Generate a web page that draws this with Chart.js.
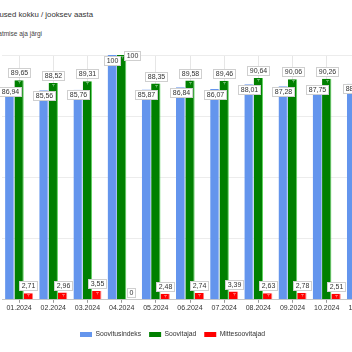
<!DOCTYPE html>
<html><head><meta charset="utf-8">
<script src="https://cdn.jsdelivr.net/npm/chart.js@4.4.0/dist/chart.umd.min.js"></script>
<style>
html,body{margin:0;padding:0;background:#fff;overflow:hidden;width:352px;height:352px;position:relative;font-family:"Liberation Sans",Arial,sans-serif}
#wrap{position:absolute;left:-74px;top:0;width:493px;height:352px}
.t1{position:absolute;right:259px;top:9px;font-size:7.8px;color:#333;white-space:nowrap;line-height:12px}
.t2{position:absolute;right:310px;top:29px;font-size:6.5px;color:#444;white-space:nowrap;line-height:10px}
</style></head>
<body>
<div class="t1">Soovitusindeksi tulemused kokku / jooksev aasta</div>
<div class="t2">Küsitluse saatmise aja järgi</div>
<div id="wrap"><canvas id="c"></canvas></div>
<script>
const categories = ['01.2024','02.2024','03.2024','04.2024','05.2024','06.2024','07.2024','08.2024','09.2024','10.2024','11.2024'];
const soovitusindeks = [86.94,85.56,85.76,100,85.87,86.84,86.07,88.01,87.28,87.75,88.3];
const soovitajad = [89.65,88.52,89.31,100,88.35,89.58,89.46,90.64,90.06,90.26,90.8];
const mittesoovitajad = [2.71,2.96,3.55,0,2.48,2.74,3.39,2.63,2.78,2.51,2.5];
const seriesNames = ['Soovitusindeks','Soovitajad','Mittesoovitajad'];
const colors = ['#6495ED','#008000','#FF0000'];
const edge = ['#9dbbf3','#5fd35f','#ff7a7a'];

function fmt(v){ return String(v).replace('.', ','); }

const labelPlugin = {
  id: 'valueLabels',
  afterDatasetsDraw(chart){
    const ctx = chart.ctx, area = chart.chartArea;
    ctx.save();
    chart.data.datasets.forEach((ds, di) => {
      const meta = chart.getDatasetMeta(di);
      meta.data.forEach((bar, i) => {
        if (!ds.data[i]) return;
        const x = Math.round(bar.x) + 0.5, y = Math.round(bar.y) + 0.5;
        ctx.strokeStyle = 'rgba(255,255,255,0.35)';
        ctx.lineWidth = 1;
        ctx.beginPath();
        ctx.moveTo(x - 1.5, y + 1); ctx.lineTo(x + 1.5, y + 1);
        ctx.moveTo(x, y + 1); ctx.lineTo(x, y + 3);
        ctx.stroke();
      });
    });
    ctx.font = '7px "Liberation Sans", Arial, sans-serif';
    ctx.textAlign = 'center';
    ctx.textBaseline = 'middle';
    chart.data.datasets.forEach((ds, di) => {
      const meta = chart.getDatasetMeta(di);
      meta.data.forEach((bar, i) => {
        const v = ds.data[i];
        if (v == null) return;
        const txt = fmt(v);
        const w = Math.round(ctx.measureText(txt).width + 4), h = 9;
        let cx = bar.x, cy;
        if (di === 0) {
          cy = bar.y + 5;
        } else {
          cy = bar.y - 3 - h / 2;
          if (cy - h / 2 < area.top) { cx = bar.x + 2 + w / 2; cy = bar.y; }
        }
        const x0 = Math.round(cx - w / 2) + 0.5, y0 = Math.round(cy - h / 2) + 0.5;
        ctx.fillStyle = '#ffffff';
        ctx.fillRect(x0, y0, w, h);
        ctx.strokeStyle = '#cfcfcf';
        ctx.lineWidth = 1;
        ctx.strokeRect(x0, y0, w, h);
        ctx.fillStyle = '#333333';
        ctx.fillText(txt, x0 + w / 2, y0 + h / 2 + 0.5);
      });
    });
    ctx.restore();
  }
};

new Chart(document.getElementById('c'), {
  type: 'bar',
  data: {
    labels: categories,
    datasets: [soovitusindeks, soovitajad, mittesoovitajad].map((d, k) => ({
      label: seriesNames[k],
      data: d,
      backgroundColor: colors[k],
      borderColor: edge[k],
      borderWidth: {left: 0, right: 1, top: 0, bottom: 0},
      borderSkipped: 'start',
      categoryPercentage: 0.82,
      barPercentage: 1.0
    }))
  },
  options: {
    responsive: true,
    maintainAspectRatio: false,
    animation: false,
    devicePixelRatio: 1,
    layout: { padding: { left: 0, right: 0, top: 55, bottom: 4 } },
    scales: {
      x: {
        grid: { offset: false, color: '#e6e6e6', tickLength: 3, tickColor: '#999' },
        border: { display: true, color: '#c8c8c8' },
        ticks: { color: '#333', font: { size: 7, family: '"Liberation Sans", Arial, sans-serif' }, padding: 1, maxRotation: 0, autoSkip: false },
        afterFit(scale){ scale.height += 10; }
      },
      y: {
        position: 'left',
        min: 0, max: 100,
        ticks: { display: false, stepSize: 25 },
        grid: { color: '#ececec', drawTicks: false },
        border: { display: false },
        afterFit(scale){ scale.width = 76; }
      },
      y2: {
        position: 'right',
        min: 0, max: 100,
        ticks: { display: false },
        grid: { display: false, drawTicks: false },
        border: { display: false },
        afterFit(scale){ scale.width = 41; }
      }
    },
    plugins: {
      legend: {
        position: 'bottom',
        labels: {
          boxWidth: 12, boxHeight: 5, padding: 8, color: '#333',
          font: { size: 6.8, family: '"Liberation Sans", Arial, sans-serif' },
          generateLabels(chart){
            return chart.data.datasets.map((ds, i) => ({
              text: ds.label, fillStyle: colors[i], strokeStyle: colors[i], lineWidth: 0,
              hidden: false, datasetIndex: i, fontColor: '#333'
            }));
          }
        }
      },
      tooltip: { enabled: false }
    }
  },
  plugins: [labelPlugin]
});
</script>
</body></html>
